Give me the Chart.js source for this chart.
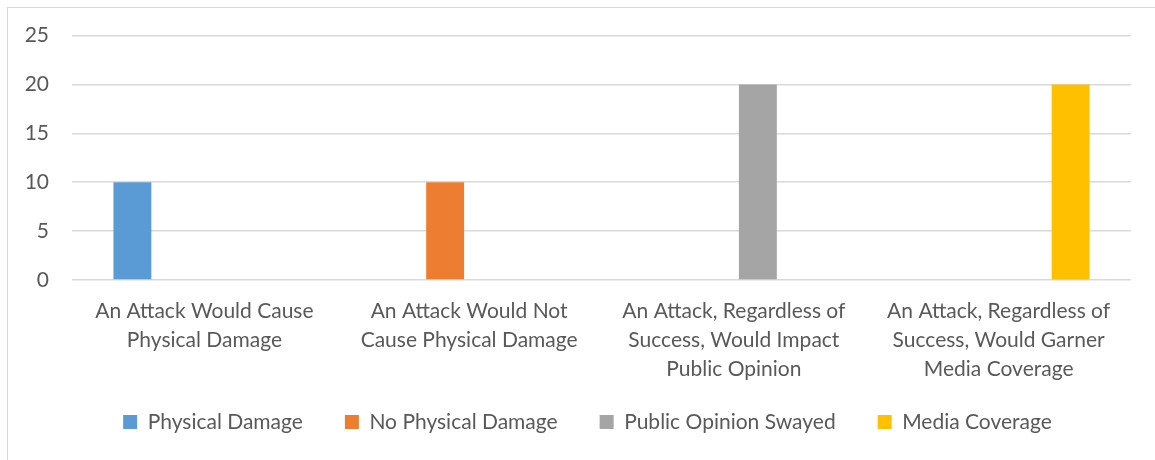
<!DOCTYPE html>
<html>
<head>
<meta charset="utf-8">
<script src="https://cdn.jsdelivr.net/npm/chart.js@4"></script>
<style>
  html, body { margin: 0; background: #fff; overflow: hidden; }
  #frame {
    position: absolute; left: 7px; top: 7px;
    width: 1148px; height: 460px;
    border-top: 1px solid #d9d9d9; border-left: 1px solid #d9d9d9;
  }
  #chart { position: absolute; left: 8px; top: 0; }
</style>
</head>
<body>
<div id="frame"></div>
<canvas id="chart" width="1147" height="470"></canvas>
<script>
// categories (x axis, split into lines)
var categories = [
  ['An Attack Would Cause', 'Physical Damage'],
  ['An Attack Would Not', 'Cause Physical Damage'],
  ['An Attack, Regardless of', 'Success, Would Impact', 'Public Opinion'],
  ['An Attack, Regardless of', 'Success, Would Garner', 'Media Coverage']
];

// one series per category
var physicalDamage = [10, null, null, null];
var noPhysicalDamage = [null, 10, null, null];
var publicOpinion = [null, null, 20, null];
var mediaCoverage = [null, null, null, 20];

var yTicks = [0, 5, 10, 15, 20, 25];

var textColor = '#595959';
var gridColor = '#d9d9d9';
var fontFamily = 'Lato, "Open Sans", sans-serif';

// move the legend a little after layout (up and to the right)
var legendNudge = {
  id: 'legendNudge',
  afterLayout: function(chart) {
    var lg = chart.legend;
    lg.top -= 10.5; lg.bottom -= 10.5;
    lg.left += 18; lg.right += 18;
  }
};

var ctx = document.getElementById('chart').getContext('2d');
new Chart(ctx, {
  type: 'bar',
  data: {
    labels: categories,
    datasets: [
      { label: 'Physical Damage', data: physicalDamage, backgroundColor: '#5b9bd5' },
      { label: 'No Physical Damage', data: noPhysicalDamage, backgroundColor: '#ed7d31' },
      { label: 'Public Opinion Swayed', data: publicOpinion, backgroundColor: '#a5a5a5' },
      { label: 'Media Coverage', data: mediaCoverage, backgroundColor: '#ffc000' }
    ]
  },
  plugins: [legendNudge],
  options: {
    responsive: false,
    animation: false,
    categoryPercentage: 0.725,
    barPercentage: 0.79,
    layout: { padding: { top: 2, right: 24, bottom: 17, left: 0 } },
    plugins: {
      tooltip: { enabled: false },
      legend: {
        position: 'bottom',
        labels: {
          color: textColor,
          font: { family: fontFamily, size: 21 },
          boxWidth: 14,
          boxHeight: 14,
          padding: 42
        }
      }
    },
    scales: {
      x: {
        afterFit: function(scale) { scale.height = 100; },
        grid: { display: false },
        border: { display: false },
        ticks: {
          color: textColor,
          font: { family: fontFamily, size: 21, lineHeight: 1.38 },
          padding: 9,
          maxRotation: 0,
          autoSkip: false
        }
      },
      y: {
        min: 0,
        max: yTicks[yTicks.length - 1],
        afterFit: function(scale) { scale.width = 64; },
        afterBuildTicks: function(scale) {
          scale.ticks = yTicks.map(function(v) { return { value: v }; });
        },
        grid: { color: gridColor, lineWidth: 1.5, drawTicks: false },
        border: { display: false },
        ticks: {
          color: textColor,
          font: { family: fontFamily, size: 21 },
          padding: 23
        }
      }
    }
  }
});
</script>
</body>
</html>
